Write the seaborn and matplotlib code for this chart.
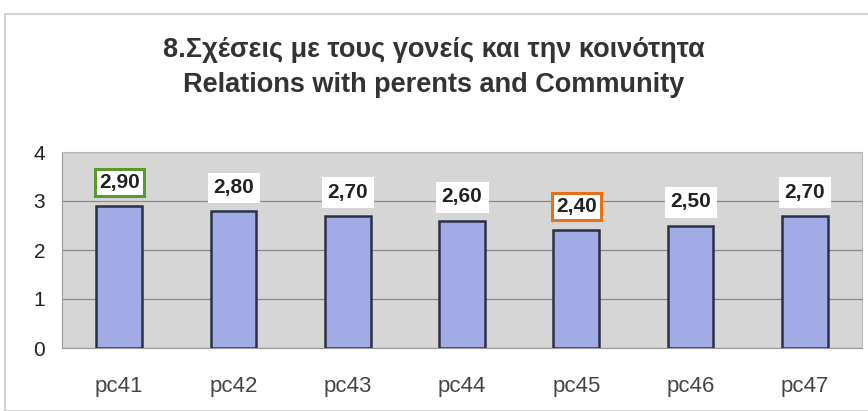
import pandas as pd
import seaborn as sns
import matplotlib.pyplot as plt
from matplotlib.patches import Rectangle

categories = ['pc41', 'pc42', 'pc43', 'pc44', 'pc45', 'pc46', 'pc47']
values = [2.90, 2.80, 2.70, 2.60, 2.40, 2.50, 2.70]
label_edges = ['#5a9a2a', 'white', 'white', 'white', '#e8701a', 'white', 'white']

data = pd.DataFrame({'item': categories, 'score': values})

sns.set_style('white')
plt.rcParams['font.family'] = ['Liberation Sans', 'DejaVu Sans']

fig = plt.figure(figsize=(8.68, 4.11), dpi=100)
fig.patches.append(Rectangle((5 / 868, 0.0), 1.0, 1 - 14 / 411, transform=fig.transFigure,
                             fill=False, edgecolor='#c8c8c8', linewidth=1.2))
ax = fig.add_axes([62 / 868, 1 - 348 / 411, 800 / 868, 196 / 411])
ax.set_facecolor('#d6d6d6')

sns.barplot(data, x='item', y='score', ax=ax, color='#a3abe6', saturation=1,
            width=0.4, edgecolor='#2a3145', linewidth=1.8)

ax.set_ylim(0, 4)
ax.set_yticks([0, 1, 2, 3, 4])
ax.yaxis.grid(True, color='#8a8a8a', linewidth=0.9)
ax.set_axisbelow(True)
for side in ['top', 'right']:
    ax.spines[side].set_color('#b8b8b8')
for side in ['left', 'bottom']:
    ax.spines[side].set_color('#9a9a9a')
ax.tick_params(axis='y', labelsize=15, colors='#222222', length=4, pad=8)
ax.tick_params(axis='x', labelsize=16, colors='#444444', length=0, pad=20)
ax.set_xlabel('')
ax.set_ylabel('')

for i, (v, ec) in enumerate(zip(values, label_edges)):
    ax.annotate(f'{v:.2f}'.replace('.', ','), (i, v), xytext=(0, 17), textcoords='offset points',
                ha='center', va='center', fontsize=15, fontweight='bold', color='#222222',
                bbox=dict(boxstyle='square,pad=0.2', facecolor='white', edgecolor=ec, linewidth=2.2))

fig.text(0.5, 1 - 50 / 411, '8.Σχέσεις με τους γονείς και την κοινότητα', ha='center', va='center',
         fontsize=19.5, fontweight='bold', color='#333333')
fig.text(0.5, 1 - 85 / 411, 'Relations with perents and Community', ha='center', va='center',
         fontsize=19.5, fontweight='bold', color='#333333')

fig.savefig('out.png', dpi=100)
